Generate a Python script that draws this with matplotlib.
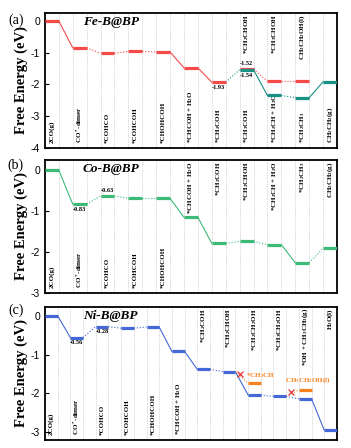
import matplotlib.pyplot as plt

plt.rcParams['font.family'] = 'Liberation Serif'
plt.rcParams['mathtext.fontset'] = 'custom'
plt.rcParams['mathtext.rm'] = 'Liberation Serif:bold'
plt.rcParams['mathtext.it'] = 'Liberation Serif:italic:bold'
plt.rcParams['mathtext.bf'] = 'Liberation Serif:bold'
plt.rcParams['mathtext.default'] = 'rm'

# ---- data ----
# (a) Fe-B@BP
fe_main = [0.0, -0.85, -1.02, -0.96, -0.98, -1.48, -1.93]   # steps 0-6
fe_red = [-1.52, -1.90, -1.90]                              # steps 7-9
fe_teal = [-1.54, -2.35, -2.42, -1.92]                      # steps 7-10
fe_bottom = ['2CO(g)', 'CO$^*$-dimer', '*COHCO', '*COHCOH', '*CHOHCOH',
             '*CHCOH + H$_2$O', '*CH$_2$COH', '*CH$_3$COH', '*CH$_2$CH + H$_2$O',
             '*CH$_2$CH$_3$', 'CH$_2$CH$_2$(g)']
fe_top = ['', '', '', '', '', '', '', '*CH$_2$CHOH', '*CH$_3$CHOH',
          'CH$_3$CH$_2$OH(l)', '']

# (b) Co-B@BP
co_vals = [0.0, -0.83, -0.63, -0.69, -0.69, -1.15, -1.79, -1.74, -1.82, -2.26, -1.91]
co_bottom = ['2CO(g)', 'CO$^*$-dimer', '*COHCO', '*COHCOH', '*CHOHCOH',
             '', '', '', '', '', '']
co_top = ['', '', '', '', '', '*CHCOH + H$_2$O', '*CH$_2$COH', '*CH$_2$CHOH',
          '*CH$_2$CH + H$_2$O', '*CH$_2$CH$_3$', 'CH$_2$CH$_2$(g)']

# (c) Ni-B@BP
ni_vals = [0.0, -0.56, -0.28, -0.32, -0.29, -0.92, -1.38, -1.44, -2.04, -2.08, -2.14, -2.95]
ni_bottom = ['2CO(g)', 'CO$^*$-dimer', '*COHCO', '*COHCOH', '*CHOHCOH',
             '*CHCOH + H$_2$O', '', '', '', '', '', '']
ni_top = ['', '', '', '', '', '', '*CH$_2$COH', '*CH$_2$CHOH', '*CH$_2$CH$_2$OH',
          '*CH$_3$CH$_2$OH', '*OH + CH$_3$CH$_3$(g)', 'H$_2$O(l)']
ni_side1 = -1.74   # *CH2CH branch at step 8
ni_side2 = -1.91   # CH3CH2OH(l) branch at step 10

red = '#f44a4a'
teal = '#179285'
green = '#3dba78'
blue = '#4468d6'
orange = '#f5821f'


def draw_path(ax, cols, vals, color, first_bar=True, ls=None):
    for k, (c, v) in enumerate(zip(cols, vals)):
        if k == 0 and not first_bar:
            continue
        ax.plot([2 * c, 2 * c + 1], [v, v], color=color, lw=2.3, solid_capstyle='butt', zorder=3)
    for k in range(len(cols) - 1):
        c0, v0, c1, v1 = cols[k], vals[k], cols[k + 1], vals[k + 1]
        style = ls if ls else ('-' if abs(v1 - v0) > 0.42 else ':')
        ax.plot([2 * c0 + 1, 2 * c1], [v0, v1], color=color, lw=0.8, ls=style, zorder=2)


def setup(ax, n, ylim, yticks, title, bottom, top):
    ax.set_xlim(0, 2 * n - 1)
    ax.set_ylim(*ylim)
    for x in range(1, 2 * n - 1):
        ax.axvline(x, color='#b0b0b0', lw=0.5, ls=':', zorder=1)
    ax.set_xticks([])
    ax.set_yticks(yticks)
    ax.set_yticklabels([str(t) for t in yticks], fontfamily='Liberation Sans', fontsize=7.5)
    ax.tick_params(axis='y', direction='in', length=3, width=0.8)
    for s in ax.spines.values():
        s.set_linewidth(1.3)
    ax.set_ylabel('Free Energy (eV)', fontsize=10.5, fontweight='bold', labelpad=2)
    ax.text(0.225, 0.93, title, transform=ax.transAxes, fontsize=9.5,
            fontweight='bold', fontstyle='italic', ha='center', va='center')
    for i, lab in enumerate(bottom):
        if lab:
            ax.text(2 * i + 0.5, 0.035, lab, transform=ax.get_xaxis_transform(), rotation=90,
                    fontsize=5, fontweight='bold', ha='center', va='bottom')
    for i, lab in enumerate(top):
        if lab:
            ax.text(2 * i + 0.5, 0.99, lab, transform=ax.get_xaxis_transform(), rotation=90,
                    fontsize=5, fontweight='bold', ha='center', va='top')


fig = plt.figure(figsize=(3.51, 4.48), dpi=100)
ax1 = fig.add_axes([0.128, 0.670, 0.832, 0.301])
ax2 = fig.add_axes([0.128, 0.346, 0.832, 0.297])
ax3 = fig.add_axes([0.128, 0.018, 0.832, 0.297])

# (a)
setup(ax1, 11, (-4, 0.25), [0, -1, -2, -3, -4], 'Fe-B@BP', fe_bottom, fe_top)
draw_path(ax1, list(range(7)), fe_main, red)
draw_path(ax1, [7, 8, 9], fe_red, red)
draw_path(ax1, [6, 7, 8, 9, 10], [fe_main[-1]] + fe_teal, teal, first_bar=False)
ax1.text(12.5, fe_main[6] - 0.1, '%.2f' % fe_main[6], fontsize=4.5, fontweight='bold', ha='center', va='top')
ax1.text(14.5, fe_red[0] + 0.1, '%.2f' % fe_red[0], fontsize=4.5, fontweight='bold', ha='center', va='bottom')
ax1.text(14.5, fe_teal[0] - 0.1, '%.2f' % fe_teal[0], fontsize=4.5, fontweight='bold', ha='center', va='top')

# (b)
setup(ax2, 11, (-3, 0.25), [0, -1, -2, -3], 'Co-B@BP', co_bottom, co_top)
draw_path(ax2, list(range(11)), co_vals, green)
ax2.text(2.5, co_vals[1] - 0.07, '%.2f' % co_vals[1], fontsize=4.5, fontweight='bold', ha='center', va='top')
ax2.text(4.5, co_vals[2] + 0.07, '%.2f' % co_vals[2], fontsize=4.5, fontweight='bold', ha='center', va='bottom')

# (c)
setup(ax3, 12, (-3.2, 0.23), [0, -1, -2, -3], 'Ni-B@BP', ni_bottom, ni_top)
draw_path(ax3, list(range(12)), ni_vals, blue)
draw_path(ax3, [7, 8], [ni_vals[7], ni_side1], orange, first_bar=False, ls=':')
draw_path(ax3, [9, 10], [ni_vals[9], ni_side2], orange, first_bar=False, ls=':')
ax3.plot([15.35], [-1.50], marker='x', color='#e8333a', ms=4, mew=0.9, zorder=4)
ax3.plot([19.4], [-1.97], marker='x', color='#e8333a', ms=4, mew=0.9, zorder=4)
ax3.text(15.8, -1.55, '*CH$_2$CH', color=orange, fontsize=5, fontweight='bold', ha='left', va='center')
ax3.text(20.7, -1.65, 'CH$_3$CH$_2$OH(l)', color=orange, fontsize=5, fontweight='bold', ha='center', va='center')
ax3.text(2.5, ni_vals[1] - 0.07, '%.2f' % ni_vals[1], fontsize=4.5, fontweight='bold', ha='center', va='top')
ax3.text(4.5, ni_vals[2] - 0.07, '%.2f' % ni_vals[2], fontsize=4.5, fontweight='bold', ha='center', va='top')

fig.text(0.045, 0.955, '(a)', fontsize=10, ha='center', va='center')
fig.text(0.045, 0.632, '(b)', fontsize=10, ha='center', va='center')
fig.text(0.045, 0.308, '(c)', fontsize=10, ha='center', va='center')

fig.savefig('out.png', dpi=100)
